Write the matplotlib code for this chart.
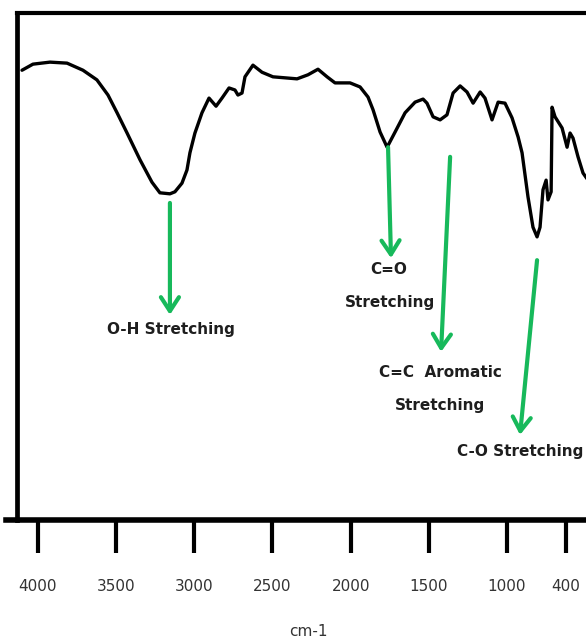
import matplotlib
matplotlib.use("Agg")
import matplotlib.pyplot as plt
from matplotlib.lines import Line2D

# ---- data ----
wavenumber = [4102, 4032, 3923, 3814, 3712, 3623, 3552, 3494, 3430, 3347,
              3271, 3220, 3156, 3124, 3079, 3047, 3028, 2996, 2951, 2906,
              2861, 2823, 2778, 2740, 2721, 2695, 2676, 2625, 2567, 2497,
              2420, 2343, 2273, 2209, 2151, 2100, 2004, 1940, 1889, 1857,
              1812, 1767, 1716, 1652, 1588, 1537, 1512, 1473, 1428, 1384,
              1345, 1300, 1256, 1217, 1172, 1141, 1096, 1057, 1013, 968,
              929, 904, 866, 834, 808, 789, 770, 750, 738, 718,
              712, 693, 648, 616, 597, 578, 546, 514, 482]
transmittance = [88.7, 89.9, 90.3, 90.1, 88.7, 86.8, 83.8, 80.3, 76.3, 71.0,
                 66.6, 64.5, 64.3, 64.7, 66.4, 69.0, 72.4, 76.3, 80.3, 83.2,
                 81.6, 83.2, 85.2, 84.8, 83.8, 84.2, 87.4, 89.7, 88.3, 87.4,
                 87.2, 87.0, 87.8, 88.9, 87.4, 86.2, 86.2, 85.4, 83.4, 80.9,
                 76.5, 73.5, 76.5, 80.3, 82.4, 83.0, 82.2, 79.5, 78.9, 79.9,
                 84.2, 85.6, 84.4, 82.2, 84.4, 83.2, 78.9, 82.4, 82.2, 79.3,
                 75.5, 72.4, 63.7, 57.7, 55.8, 57.7, 65.1, 67.0, 63.1, 64.7,
                 81.4, 79.5, 77.3, 73.5, 76.3, 75.3, 71.6, 68.4, 67.0]

tick_values = [4000, 3500, 3000, 2500, 2000, 1500, 1000, 622]
tick_labels = ["4000", "3500", "3000", "2500", "2000", "1500", "1000", "400"]

band_labels = ["O-H Stretching", "C=O\nStretching",
               "C=C  Aromatic\nStretching", "C-O Stretching"]

x_label = "cm-1"

GREEN = "#17B95B"
TEXT = "#1e1e1e"

fig = plt.figure(figsize=(5.86, 6.41), dpi=100)
ax = fig.add_axes([17 / 586, (641 - 519.5) / 641, 1 - 17 / 586, (519.5 - 13) / 641])

ax.plot(wavenumber, transmittance, color="black", lw=2.4,
        solid_joinstyle="round", solid_capstyle="round")

ax.set_xlim(4134, 495)
ax.set_ylim(0, 100)

for s in ["right"]:
    ax.spines[s].set_visible(False)
ax.spines["top"].set_linewidth(3.0)
ax.spines["left"].set_linewidth(3.4)
ax.spines["bottom"].set_visible(False)
# bottom axis line, extending slightly left of the left spine
fig.add_artist(Line2D([6 / 586, 1.0], [(641 - 519.5) / 641] * 2,
                      color="black", lw=4.0, transform=fig.transFigure))

ax.set_yticks([])
ax.set_xticks(tick_values, labels=tick_labels)
ax.tick_params(axis="x", direction="out", length=24, width=3, color="black",
               pad=19, labelsize=11, labelcolor="#333333")

fig.text(308 / 586, 1 - 632 / 641, x_label, ha="center", va="center",
         fontsize=11, color="#333333")

# ---- arrows & labels ----
arrow_kw = dict(arrowstyle="->,head_length=1.0,head_width=0.65",
                mutation_scale=10, lw=3, color=GREEN, shrinkA=0, shrinkB=0)

# O-H
ax.annotate("", xy=(3156, 40.4), xytext=(3156, 62.5), arrowprops=arrow_kw)
ax.text(3150, 37.6, band_labels[0], ha="center", va="center",
        fontsize=11, fontweight="bold", color=TEXT)
# C=O
ax.annotate("", xy=(1742, 51.6), xytext=(1761, 73.5), arrowprops=arrow_kw)
l1, l2 = band_labels[1].split("\n")
ax.text(1755, 49.3, l1, ha="center", va="center", fontsize=11,
        fontweight="bold", color=TEXT)
ax.text(1748, 42.9, l2, ha="center", va="center", fontsize=11,
        fontweight="bold", color=TEXT)
# C=C aromatic
ax.annotate("", xy=(1422, 33.1), xytext=(1364, 71.6), arrowprops=arrow_kw)
l1, l2 = band_labels[2].split("\n")
ax.text(1428, 29.1, l1, ha="center", va="center", fontsize=11,
        fontweight="bold", color=TEXT)
ax.text(1428, 22.6, l2, ha="center", va="center", fontsize=11,
        fontweight="bold", color=TEXT)
# C-O
ax.annotate("", xy=(917, 16.7), xytext=(808, 51.2), arrowprops=arrow_kw)
ax.text(917, 13.5, band_labels[3], ha="center", va="center",
        fontsize=11, fontweight="bold", color=TEXT)

fig.savefig("out.png", dpi=100)
